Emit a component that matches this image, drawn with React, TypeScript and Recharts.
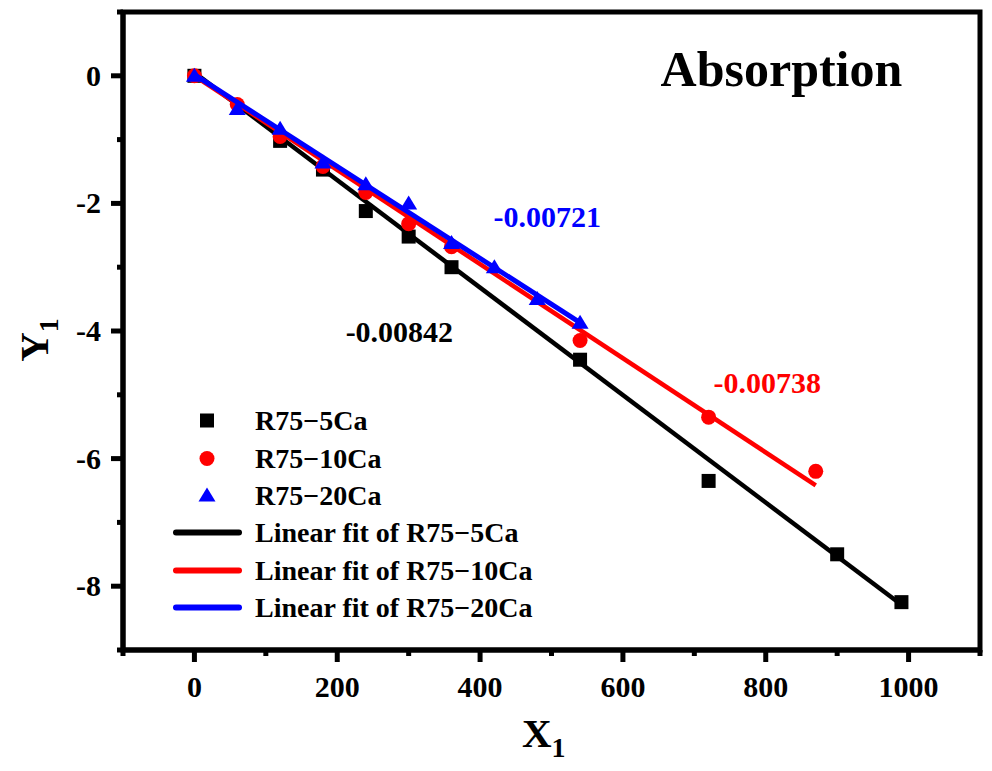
import React from 'react';
import {
  ScatterChart,
  Scatter,
  XAxis,
  YAxis,
  Legend,
  ReferenceArea,
  ReferenceDot,
  Label,
} from 'recharts';

// measured points (X1 = time, Y1 = ln term)
const x5 = [0, 120, 180, 240, 300, 360, 540, 720, 900, 990];
const y5 = [0, -1.02, -1.47, -2.12, -2.52, -3.0, -4.45, -6.35, -7.5, -8.25];
const x10 = [0, 60, 120, 180, 240, 300, 360, 540, 720, 870];
const y10 = [0, -0.45, -0.95, -1.42, -1.83, -2.32, -2.68, -4.15, -5.35, -6.2];
const x20 = [0, 60, 120, 180, 240, 300, 360, 420, 480, 540];
const y20 = [0, -0.52, -0.83, -1.36, -1.7, -2.0, -2.62, -3.0, -3.5, -3.87];

// linear fit end points
const fitX5 = [0, 990];
const fitY5 = [0.05, -8.29];
const fitX10 = [0, 870];
const fitY10 = [0, -6.42];
const fitX20 = [0, 540];
const fitY20 = [0.02, -3.87];

const seriesNames = ['R75\u22125Ca', 'R75\u221210Ca', 'R75\u221220Ca'];
const seriesColors = ['#000000', '#ff0000', '#0000ff'];
const slopeLabels = ['-0.00842', '-0.00738', '-0.00721'];

const xTicks = [-100, 0, 100, 200, 300, 400, 500, 600, 700, 800, 900, 1000, 1100];
const yTicks = [-9, -8, -7, -6, -5, -4, -3, -2, -1, 0, 1];

const zip = (xs: number[], ys: number[]) => xs.map((x, i) => ({ x, y: ys[i] }));

const FONT = '"Liberation Serif", "Times New Roman", serif';

const Square = (p: any) => (
  <rect x={p.cx - 7} y={p.cy - 7} width={14} height={14} fill="#000" />
);
const Circle = (p: any) => <circle cx={p.cx} cy={p.cy} r={7.5} fill="#ff0000" />;
const Triangle = (p: any) => (
  <polygon
    points={`${p.cx},${p.cy - 8} ${p.cx + 8.5},${p.cy + 6} ${p.cx - 8.5},${p.cy + 6}`}
    fill="#0000ff"
  />
);
const NoDot = () => <g />;

const XTick = (props: any) => {
  const { x, y, payload } = props;
  const v = payload.value;
  const major = v % 200 === 0 && v >= 0 && v <= 1000;
  return (
    <g>
      <line x1={x} y1={y} x2={x} y2={y + (major ? 12 : 6)} stroke="#000" strokeWidth={5} />
      {major && (
        <text x={x} y={y + 47} textAnchor="middle" fontFamily={FONT} fontWeight="bold" fontSize={30} fill="#000">
          {v}
        </text>
      )}
    </g>
  );
};

const YTick = (props: any) => {
  const { x, y, payload } = props;
  const v = payload.value;
  const major = v % 2 === 0 && v <= 0 && v >= -8;
  return (
    <g>
      <line x1={x} y1={y} x2={x - (major ? 12 : 6)} y2={y} stroke="#000" strokeWidth={5} />
      {major && (
        <text x={x - 22} y={y + 10} textAnchor="end" fontFamily={FONT} fontWeight="bold" fontSize={30} fill="#000">
          {v}
        </text>
      )}
    </g>
  );
};

const XTitle = (props: any) => {
  const { viewBox } = props;
  return (
    <text x={viewBox.x + 399} y={viewBox.y + 97} fontFamily={FONT} fontWeight="bold" fontSize={41} fill="#000">
      X
      <tspan fontSize={28} dy={10}>1</tspan>
    </text>
  );
};

const YTitle = () => (
  <text
    transform="translate(40, 332) rotate(-90)"
    textAnchor="middle"
    fontFamily={FONT}
    fontWeight="bold"
    fontSize={41}
    fill="#000"
  >
    Y
    <tspan fontSize={28} dy={10}>1</tspan>
  </text>
);

const note = (text: string, color: string, size: number) => (props: any) => {
  const { viewBox } = props;
  return (
    <text x={viewBox.x} y={viewBox.y} textAnchor="middle" fontFamily={FONT} fontWeight="bold" fontSize={size} fill={color}>
      {text}
    </text>
  );
};

const markerIcons = [
  <rect key="s" x={32} y={11.5} width={14} height={14} fill="#000" />,
  <circle key="c" cx={39} cy={18.5} r={7.5} fill="#ff0000" />,
  <polygon key="t" points="39,10.5 47.5,24.5 30.5,24.5" fill="#0000ff" />,
];

const renderLegend = () => {
  const rows = [
    ...seriesNames.map((n, i) => ({ label: n, icon: markerIcons[i] })),
    ...seriesNames.map((n, i) => ({
      label: `Linear fit of ${n}`,
      icon: (
        <line
          key={`l${i}`}
          x1={8}
          y1={18.5}
          x2={71}
          y2={18.5}
          stroke={seriesColors[i]}
          strokeWidth={6}
          strokeLinecap="round"
        />
      ),
    })),
  ];
  return (
    <div style={{ fontFamily: FONT, fontWeight: 'bold', fontSize: 28, color: '#000' }}>
      {rows.map((r, i) => (
        <div key={i} style={{ display: 'flex', alignItems: 'center', height: 37.4, whiteSpace: 'nowrap' }}>
          <svg width={80} height={37} style={{ flex: 'none' }}>
            {r.icon}
          </svg>
          <span style={{ marginLeft: 7, lineHeight: '37px' }}>{r.label}</span>
        </div>
      ))}
    </div>
  );
};

export default function App() {
  return (
    <div style={{ width: 976, height: 755 }}>
      <ScatterChart width={976} height={755} margin={{ top: 4, right: 4, bottom: 53, left: 15 }}>
        <ReferenceArea
          x1={-100}
          x2={1100}
          y1={-9}
          y2={1}
          fill="none"
          stroke="#000"
          strokeWidth={5}
          fillOpacity={0}
          strokeOpacity={1}
        />
        <XAxis
          dataKey="x"
          type="number"
          domain={[-100, 1100]}
          ticks={xTicks}
          allowDataOverflow
          height={60}
          tickSize={0}
          tickMargin={0}
          tickLine={false}
          axisLine={{ stroke: '#000', strokeWidth: 5 }}
          tick={<XTick />}
          interval={0}
        >
          <Label content={<XTitle />} />
        </XAxis>
        <YAxis
          dataKey="y"
          type="number"
          domain={[-9, 1]}
          ticks={yTicks}
          allowDataOverflow
          width={100}
          tickSize={0}
          tickMargin={0}
          tickLine={false}
          axisLine={{ stroke: '#000', strokeWidth: 5 }}
          tick={<YTick />}
          interval={0}
        >
          <Label content={<YTitle />} />
        </YAxis>
        <Legend
          content={renderLegend}
          layout="vertical"
          align="center"
          verticalAlign="middle"
          wrapperStyle={{ left: 160, top: 394, width: 'auto', height: 'auto' }}
        />

        <Scatter name={seriesNames[0]} data={zip(x5, y5)} shape={Square} isAnimationActive={false} />
        <Scatter
          data={zip(fitX5, fitY5)}
          fill={seriesColors[0]}
          line={{ stroke: seriesColors[0], strokeWidth: 4.5 }}
          shape={NoDot}
          isAnimationActive={false}
        />
        <Scatter name={seriesNames[1]} data={zip(x10, y10)} shape={Circle} isAnimationActive={false} />
        <Scatter
          data={zip(fitX10, fitY10)}
          fill={seriesColors[1]}
          line={{ stroke: seriesColors[1], strokeWidth: 4.5 }}
          shape={NoDot}
          isAnimationActive={false}
        />
        <Scatter name={seriesNames[2]} data={zip(x20, y20)} shape={Triangle} isAnimationActive={false} />
        <Scatter
          data={zip(fitX20, fitY20)}
          fill={seriesColors[2]}
          line={{ stroke: seriesColors[2], strokeWidth: 5 }}
          shape={NoDot}
          isAnimationActive={false}
        />

        <ReferenceDot x={822} y={-0.16} r={0} fill="none" stroke="none" label={{ content: note('Absorption', '#000', 50) }} />
        <ReferenceDot x={494} y={-2.37} r={0} fill="none" stroke="none" label={{ content: note(slopeLabels[2], seriesColors[2], 30) }} />
        <ReferenceDot x={287} y={-4.17} r={0} fill="none" stroke="none" label={{ content: note(slopeLabels[0], seriesColors[0], 30) }} />
        <ReferenceDot x={802} y={-4.97} r={0} fill="none" stroke="none" label={{ content: note(slopeLabels[1], seriesColors[1], 30) }} />
      </ScatterChart>
    </div>
  );
}
